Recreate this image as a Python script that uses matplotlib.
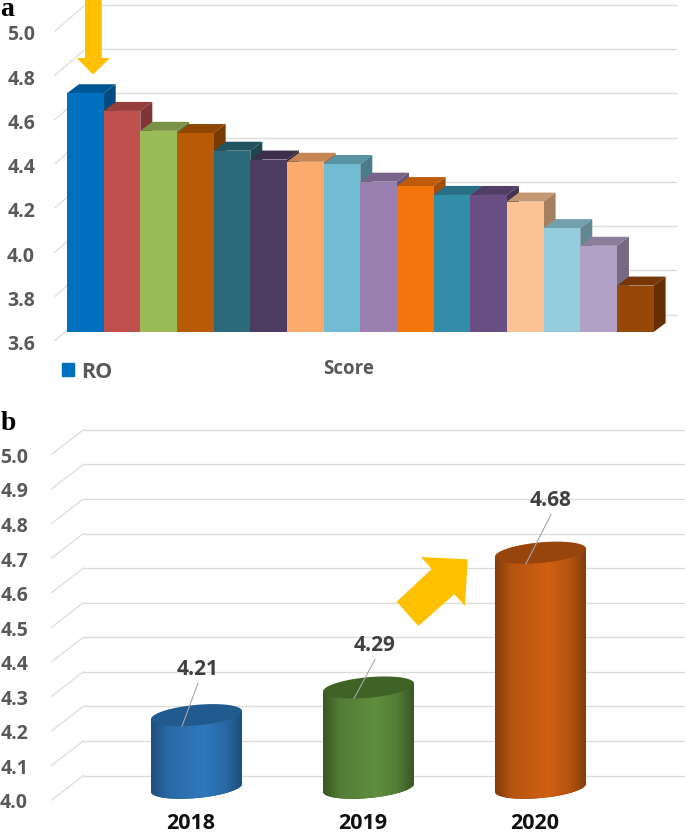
import numpy as np
import matplotlib
matplotlib.use("Agg")
import matplotlib.pyplot as plt
from matplotlib.colors import LinearSegmentedColormap, to_rgb
from matplotlib.patches import Patch, Polygon
from matplotlib.transforms import Affine2D

# ---- data ----
scores = [4.68, 4.60, 4.51, 4.50, 4.42, 4.38, 4.37, 4.36,
          4.28, 4.26, 4.22, 4.22, 4.19, 4.07, 3.99, 3.81]
score_colors = ["#0070C0", "#C0504D", "#9BBB59", "#B85A06", "#2A6A7B", "#4E3B62",
                "#FCAB6C", "#71BCD2", "#9A80B1", "#F5750D", "#338DA9", "#684E82",
                "#FBC393", "#95CCDD", "#B3A0C7", "#974706"]
a_ticks = [3.6, 3.8, 4.0, 4.2, 4.4, 4.6, 4.8, 5.0]
years = ["2018", "2019", "2020"]
year_values = [4.21, 4.29, 4.68]
b_ticks = [4.0, 4.1, 4.2, 4.3, 4.4, 4.5, 4.6, 4.7, 4.8, 4.9, 5.0]

# ---- style ----
W, H = 685, 833
FONT = "Open Sans"
GRID = "#DCDCDC"
TICK = "#595959"
ARROW = "#FFC000"
cyl_styles = [("#1F4E79", "#2F78BE", "#215A8E"),
              ("#375623", "#5F8E3E", "#3F6327"),
              ("#843C0C", "#D06012", "#98440D")]
label_shift = [(1.5, 46), (6.5, 42), (10.5, 52)]   # label offset from top centre, px
leader_gap = 10

plt.rcParams["font.family"] = [FONT, "DejaVu Sans"]
fig = plt.figure(figsize=(W / 100, H / 100), dpi=100, facecolor="white")
px = Affine2D().scale(1 / W, -1 / H).translate(0, 1) + fig.transFigure


def make_axes(left, right, bottom, top):
    ax = fig.add_axes([left / W, 1 - bottom / H, (right - left) / W, (bottom - top) / H])
    ax.set_frame_on(False)
    return ax


def shade(color, f):
    return tuple(c * f for c in to_rgb(color))


def walls(ax, ticks, x0, x1, wall_dx, wall_dy):
    for t in ticks:
        ax.plot([x0, x0 + wall_dx], [t, t + wall_dy], color=GRID, lw=0.9, zorder=1, clip_on=False)
        ax.plot([x0 + wall_dx, x1], [t + wall_dy, t + wall_dy], color=GRID, lw=1.0, zorder=1,
                clip_on=False, solid_capstyle="butt")


def nudge_labels(ax, down_px):
    for lab in ax.get_yticklabels():
        lab.set_transform(lab.get_transform() + Affine2D().translate(0, -down_px))


# ---- panel a ----
axa = make_axes(55, 55 + 586.6, 340.5, 31)
axa.set_xlim(0, 16)
axa.set_ylim(3.6, 5.0)
ux, uy = 586.6 / 16, 309.5 / 1.4
walls(axa, a_ticks, 0, (676.5 - 55) / ux, 30 / ux, 26 / uy)
ox, oy = 12 / ux, 8.5 / uy    # bar front plane shift
dx, dy = 12 / ux, 9 / uy      # bar depth
for i, (v, c) in enumerate(zip(scores, score_colors)):
    x0, x1 = i + ox, i + 1 + ox
    b, t = a_ticks[0] + oy, v + oy
    axa.add_patch(Polygon([(x0, t), (x1, t), (x1 + dx, t + dy), (x0 + dx, t + dy)],
                          fc=shade(c, 0.78), ec="none", zorder=2 + i, clip_on=False))
    axa.add_patch(Polygon([(x1, b), (x1 + dx, b + dy), (x1 + dx, t + dy), (x1, t)],
                          fc=shade(c, 0.66), ec="none", zorder=2 + i, clip_on=False))
    axa.bar(i + ox, v - a_ticks[0], bottom=b, width=1, align="edge", color=c, lw=0,
            zorder=2 + i, clip_on=False)
axa.set_xticks([])
axa.set_yticks(a_ticks, [f"{t:.1f}" for t in a_ticks])
axa.tick_params(axis="y", length=0, pad=14.4, labelsize=14, labelcolor=TICK)
for lab in axa.get_yticklabels():
    lab.set_fontweight("bold")
nudge_labels(axa, 2)
axa.set_xlabel("Score", fontsize=13.5, fontweight="bold", color=TICK, labelpad=13)
fig.legend(handles=[Patch(color=score_colors[0], label="RO")],
           loc="center left", bbox_to_anchor=(62 / W, 1 - 372 / H), frameon=False,
           borderpad=0, borderaxespad=0, handlelength=0.56, handleheight=0.56,
           handletextpad=0.34, labelcolor=TICK,
           prop={"family": FONT, "weight": "bold", "size": 15.5})

# ---- panel b ----
axb = make_axes(51.7, 653.6, 800, 454.3)
axb.set_xlim(-0.75, 2.75)
axb.set_ylim(4.0, 5.0)
ux, uy = 172.0, 345.7
walls(axb, b_ticks, -0.75, -0.75 + (685 - 51.7) / ux, 31.7 / ux, 24.5 / uy)
ox, oy = 15.85 / ux, 12.25 / uy
ha = 45.5 / ux
tilt, minor = 4 / uy, 10.3 / uy
tt = np.linspace(0, 2 * np.pi, 181)
for i, (v, (edge, bright, topc)) in enumerate(zip(year_values, cyl_styles)):
    cx = i + ox
    ctop, cbot = v + oy, b_ticks[0] + oy
    low = np.linspace(np.pi, 2 * np.pi, 91)
    bx = cx + ha * np.cos(low)
    by = cbot + tilt * np.cos(low) + minor * np.sin(low)
    body = Polygon(np.r_[[(cx - ha, ctop - tilt)], np.c_[bx, by], [(cx + ha, ctop + tilt)]],
                   fc=edge, ec="none", zorder=3)
    axb.add_patch(body)
    cmap = LinearSegmentedColormap.from_list(
        f"c{i}", [(0, edge), (0.18, shade(bright, 0.87)), (0.58, bright),
                  (0.82, shade(bright, 0.87)), (1, edge)])
    im = axb.imshow(np.linspace(0, 1, 256)[None, :], cmap=cmap, aspect="auto", zorder=3.1,
                    extent=[cx - ha, cx + ha, cbot - 0.05, ctop + 0.05])
    im.set_clip_path(body)
    axb.fill(cx + ha * np.cos(tt), ctop + tilt * np.cos(tt) + minor * np.sin(tt),
             color=topc, lw=0, zorder=4, clip_on=False)
    sx, sy = label_shift[i]
    axb.plot([cx - 14.5 / ux, cx + sx / ux], [ctop - 11 / uy, ctop + (sy - leader_gap - 4) / uy],
             color="#A6A6A6", lw=0.8, zorder=5)
    axb.text(cx + sx / ux, ctop + sy / uy, f"{v:.2f}", ha="center", va="center",
             fontsize=15, fontweight="bold", color="#404040", zorder=6)
axb.set_xlim(-0.75, 2.75)
axb.set_ylim(4.0, 5.0)
axb.set_xticks(np.arange(len(years)) + 0.06, years)
axb.set_yticks(b_ticks, [f"{t:.1f}" for t in b_ticks])
axb.tick_params(axis="y", length=0, pad=17.0, labelsize=14, labelcolor=TICK)
axb.tick_params(axis="x", length=0, pad=9.5, labelsize=15.5, labelcolor="#111111")
for lab in axb.get_yticklabels() + axb.get_xticklabels():
    lab.set_fontweight("bold")
nudge_labels(axb, 1)

# ---- callout arrows and panel letters ----
arrow_a = [(85, 0), (101.7, 0), (101.7, 58), (110, 58), (93, 74.5), (76.7, 58), (85, 58)]
arrow_b = [(396.7, 601.7), (418.3, 626), (454.3, 594.3), (465, 606),
           (467.7, 559.3), (421, 557), (431.7, 569)]
for pts in (arrow_a, arrow_b):
    fig.add_artist(Polygon(pts, closed=True, fc=ARROW, ec="none", transform=px, zorder=10))
for letter, x, y in (("a", 0.5, 9), ("b", 1, 424)):
    fig.text(x / W, 1 - y / H, letter, family="Liberation Serif", weight="bold", fontsize=20,
             color="black", ha="left", va="center")

fig.savefig("out.png", dpi=100, facecolor="white")
